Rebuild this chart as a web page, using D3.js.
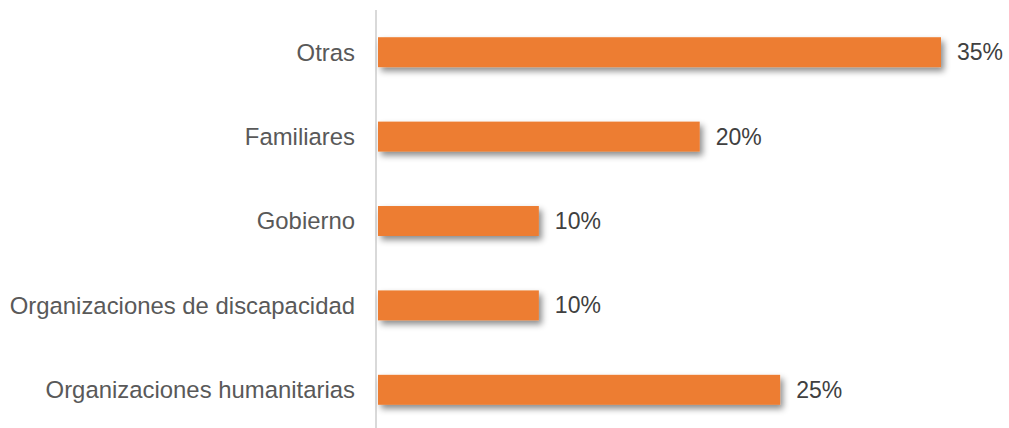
<!DOCTYPE html>
<html>
<head>
<meta charset="utf-8">
<script src="https://cdn.jsdelivr.net/npm/d3@7"></script>
<style>
  html, body { margin: 0; padding: 0; background: #ffffff; }
  svg { display: block; }
</style>
</head>
<body>
<svg id="chart" width="1009" height="428"></svg>
<script>
// Sources of support, share of responses
const categories = ["Otras", "Familiares", "Gobierno", "Organizaciones de discapacidad", "Organizaciones humanitarias"];
const values = [35, 20, 10, 10, 25];
const valueLabels = ["35%", "20%", "10%", "10%", "25%"];

const width = 1009, height = 428;
const axisX = 376;
const svg = d3.select("#chart");

const defs = svg.append("defs");
const filter = defs.append("filter").attr("id", "barShadow")
  .attr("x", "-5%").attr("y", "-30%").attr("width", "115%").attr("height", "180%");
filter.append("feDropShadow")
  .attr("dx", 3).attr("dy", 4).attr("stdDeviation", 3)
  .attr("flood-color", "#000").attr("flood-opacity", 0.45);

const x = d3.scaleLinear().domain([0, 35]).range([axisX + 2, 941]);
const y = d3.scaleBand().domain(categories).range([10, 432])
  .paddingInner(0.645).paddingOuter(0.3225);

// vertical category axis line
svg.append("line")
  .attr("x1", axisX).attr("x2", axisX)
  .attr("y1", 10).attr("y2", height)
  .attr("stroke", "#d9d9d9").attr("stroke-width", 2);

const data = categories.map((c, i) => ({ c, v: values[i], label: valueLabels[i] }));

svg.append("g").selectAll("rect").data(data).join("rect")
  .attr("x", x(0))
  .attr("y", d => y(d.c))
  .attr("width", d => x(d.v) - x(0))
  .attr("height", y.bandwidth())
  .attr("fill", "#ED7D31")
  .attr("filter", "url(#barShadow)");

const font = "'Liberation Sans', Arial, sans-serif";

svg.append("g").selectAll("text").data(data).join("text")
  .attr("x", axisX - 21)
  .attr("y", d => y(d.c) + y.bandwidth() / 2)
  .attr("dy", "0.35em")
  .attr("text-anchor", "end")
  .attr("font-family", font).attr("font-size", 23.9)
  .attr("fill", "#595959")
  .text(d => d.c);

svg.append("g").selectAll("text").data(data).join("text")
  .attr("x", d => x(d.v) + 16)
  .attr("y", d => y(d.c) + y.bandwidth() / 2)
  .attr("dy", "0.35em")
  .attr("font-family", font).attr("font-size", 23)
  .attr("fill", "#404040")
  .text(d => d.label);
</script>
</body>
</html>
